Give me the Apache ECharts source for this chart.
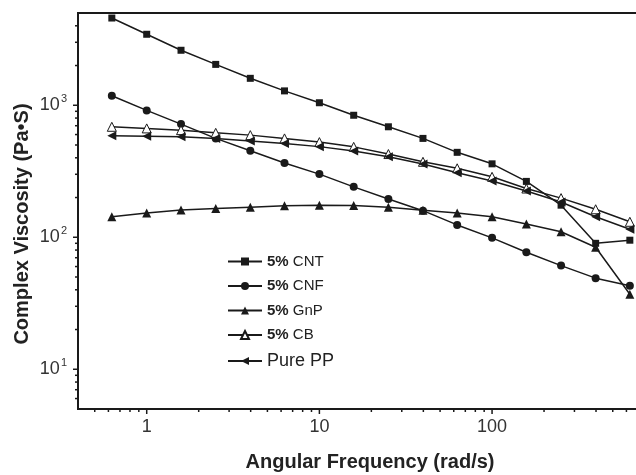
<!DOCTYPE html>
<html>
<head>
<meta charset="utf-8">
<script src="https://cdn.jsdelivr.net/npm/echarts@6/dist/echarts.min.js"></script>
<style>
  html, body { margin: 0; padding: 0; background: #ffffff; }
  #chart { width: 636px; height: 475px; }
</style>
</head>
<body>
<div id="chart"></div>
<script>
// Angular frequency (rad/s)
const freq = [0.628, 1, 1.58, 2.51, 3.98, 6.28, 10, 15.8, 25.1, 39.8, 62.8, 100, 158, 251, 398, 628];
// Complex viscosity (Pa·s) per sample
const cnt = [4580, 3450, 2610, 2040, 1600, 1285, 1045, 840, 687, 561, 440, 360, 265, 175, 90, 95];
const cnf = [1180, 914, 720, 561, 452, 365, 301, 241, 195, 159, 124, 99, 77, 61, 49, 43];
const gnp = [143, 153, 161, 165, 169, 173, 175, 174, 169, 160, 153, 143, 126, 110, 84, 37];
const cb  = [687, 668, 648, 618, 594, 561, 526, 484, 427, 373, 333, 287, 234, 198, 163, 131];
const pp  = [587, 583, 577, 561, 535, 514, 486, 450, 407, 359, 308, 267, 224, 185, 143, 115];
const seriesNames = ['5% CNT', '5% CNF', '5% GnP', '5% CB', 'Pure PP'];
const xTitle = 'Angular Frequency (rad/s)';
const yTitle = 'Complex Viscosity (Pa\u2022S)';

const X_MIN = 0.4, X_MAX = 800, Y_MIN = 5, Y_MAX = 5000;
const INK = '#1a1a1a';
const FONT = '"Liberation Sans", Arial, sans-serif';

// Decade tick values (1 = major, 0 = minor) inside [min, max]
function logTicks(min, max) {
  const out = [];
  for (let e = Math.floor(Math.log10(min)); e <= Math.ceil(Math.log10(max)); e++) {
    for (let m = 1; m <= 9; m++) {
      const v = parseFloat((m * Math.pow(10, e)).toPrecision(6));
      if (v > min * 1.0001 && v < max * 0.9999) out.push({ v: v, major: m === 1 ? 1 : 0 });
    }
  }
  return out;
}
const xTicks = logTicks(X_MIN, X_MAX);
const yTicks = logTicks(Y_MIN, Y_MAX);

function isPow10(v) {
  const e = Math.log10(v);
  return Math.abs(e - Math.round(e)) < 1e-6;
}

const pairs = arr => freq.map((f, i) => [f, arr[i]]);

const lineBase = {
  type: 'line',
  lineStyle: { color: INK, width: 1.5 },
  itemStyle: { color: INK },
  emphasis: { disabled: true },
  z: 3
};

const chart = echarts.init(document.getElementById('chart'), null, { renderer: 'canvas' });
chart.setOption({
  animation: false,
  backgroundColor: '#ffffff',
  grid: {
    left: 78, top: 13, width: 570, height: 396,
    outerBoundsMode: 'none', containLabel: false,
    show: true, borderColor: INK, borderWidth: 2, backgroundColor: 'transparent'
  },
  xAxis: {
    type: 'log', logBase: 10, min: X_MIN, max: X_MAX,
    axisLine: { show: true, lineStyle: { color: INK, width: 2 } },
    axisTick: { show: false },
    splitLine: { show: false },
    axisLabel: {
      margin: 9, color: '#333', fontSize: 18, fontFamily: FONT,
      showMinLabel: false, showMaxLabel: false,
      formatter: v => isPow10(v) ? String(Math.round(v)) : ''
    }
  },
  yAxis: {
    type: 'log', logBase: 10, min: Y_MIN, max: Y_MAX,
    axisLine: { show: true, lineStyle: { color: INK, width: 2 } },
    axisTick: { show: false },
    splitLine: { show: false },
    axisLabel: {
      margin: 11, fontFamily: FONT,
      showMinLabel: false, showMaxLabel: false,
      formatter: v => isPow10(v) ? '{b|10}{s|' + Math.round(Math.log10(v)) + '}' : '',
      rich: {
        b: { fontSize: 18, color: '#333', fontFamily: FONT },
        s: { fontSize: 11, color: '#333', fontFamily: FONT, padding: [0, 0, 12, 1] }
      }
    }
  },
  legend: {
    orient: 'vertical', left: 222, top: 249,
    itemWidth: 34, itemHeight: 10, itemGap: 9.5,
    data: seriesNames,
    formatter: name => name.indexOf('5%') === 0
      ? '{b|5%}{r| ' + name.slice(3) + '}'
      : '{p|' + name + '}',
    textStyle: {
      rich: {
        b: { fontSize: 15, fontWeight: 'bold', color: '#222', fontFamily: FONT, lineHeight: 14 },
        r: { fontSize: 15, color: '#222', fontFamily: FONT, lineHeight: 14 },
        p: { fontSize: 18, color: '#222', fontFamily: FONT, lineHeight: 12 }
      }
    }
  },
  graphic: [
    {
      type: 'text', x: 370, y: 462,
      style: { text: xTitle, font: 'bold 20px ' + FONT, fill: '#222', align: 'center', verticalAlign: 'middle' }
    },
    {
      type: 'text', x: 22, y: 224, rotation: Math.PI / 2,
      style: { text: yTitle, font: 'bold 20px ' + FONT, fill: '#222', align: 'center', verticalAlign: 'middle' }
    }
  ],
  series: [
    Object.assign({}, lineBase, { name: seriesNames[0], symbol: 'rect', symbolSize: 7, data: pairs(cnt) }),
    Object.assign({}, lineBase, { name: seriesNames[1], symbol: 'circle', symbolSize: 8, data: pairs(cnf) }),
    Object.assign({}, lineBase, { name: seriesNames[2], symbol: 'triangle', symbolSize: 9, data: pairs(gnp) }),
    Object.assign({}, lineBase, {
      name: seriesNames[3], symbol: 'triangle', symbolSize: 9, data: pairs(cb),
      itemStyle: { color: '#ffffff', borderColor: INK, borderWidth: 1 }
    }),
    Object.assign({}, lineBase, { name: seriesNames[4], symbol: 'triangle', symbolSize: 9, symbolRotate: 90, data: pairs(pp) }),
    // x-axis ticks (outward), major per decade and minor at 2..9
    {
      type: 'custom', silent: true, clip: false, z: 5,
      data: xTicks.map(t => [t.v, Y_MIN, t.major]),
      renderItem: function (params, api) {
        const cs = params.coordSys;
        const x = api.coord([api.value(0), Y_MIN])[0];
        const len = api.value(2) ? 5 : 3;
        const yb = cs.y + cs.height;
        return { type: 'line', shape: { x1: x, y1: yb, x2: x, y2: yb + len }, style: { stroke: INK, lineWidth: 1.5 } };
      }
    },
    // y-axis ticks (outward)
    {
      type: 'custom', silent: true, clip: false, z: 5,
      data: yTicks.map(t => [X_MIN, t.v, t.major]),
      renderItem: function (params, api) {
        const cs = params.coordSys;
        const y = api.coord([X_MIN, api.value(1)])[1];
        const len = api.value(2) ? 5 : 3;
        return { type: 'line', shape: { x1: cs.x, y1: y, x2: cs.x - len, y2: y }, style: { stroke: INK, lineWidth: 1.5 } };
      }
    }
  ]
});
</script>
</body>
</html>
